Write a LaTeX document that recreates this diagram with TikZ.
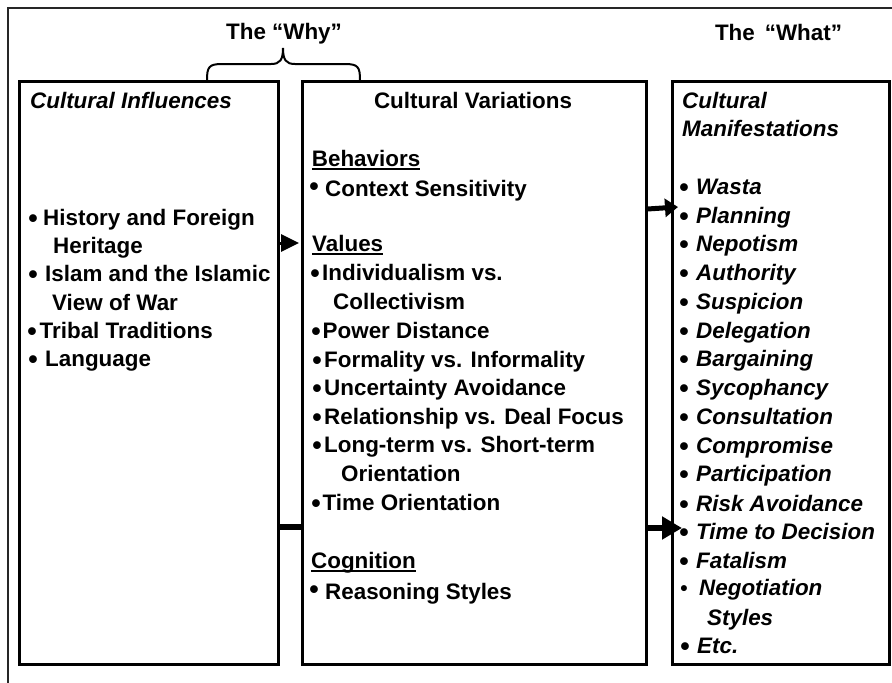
\documentclass[tikz,border=0pt]{standalone}
\usepackage{fontspec}
\setmainfont{Liberation Sans}
\usetikzlibrary{arrows.meta,calc}
\newcommand\ulhead[1]{\setbox0\hbox{#1}\rlap{\rule[-3.5pt]{\wd0}{2pt}}\box0}
\begin{document}
\begin{tikzpicture}[x=1pt,y=-1pt,
  box/.style={draw=black, line width=2.5pt, inner sep=0pt, anchor=north west, minimum height=583pt},
  txt/.style={anchor=base west, inner sep=0pt, font=\fontsize{22.4pt}{28pt}\selectfont\bfseries},
  itx/.style={anchor=base west, inner sep=0pt, font=\fontsize{22.4pt}{28pt}\selectfont\bfseries\itshape},
  ctx/.style={anchor=base, inner sep=0pt, font=\fontsize{22.4pt}{28pt}\selectfont\bfseries},
  bul/.style={anchor=base, inner sep=0pt, yshift=-2pt, font=\fontsize{27pt}{30pt}\selectfont\bfseries},
  hibul/.style={anchor=base, inner sep=0pt, yshift=1pt, font=\fontsize{27pt}{30pt}\selectfont\bfseries},
  conn/.style={draw=black}]
\useasboundingbox (0,0) rectangle (892,683);
% outer frame (top and left visible)
\draw[line width=2pt, color=black!85] (892,8) -- (8,8) -- (8,683);
% boxes
\node[box, minimum width=259pt] (inf) at (18,80) {};
\node[box, minimum width=344pt] (var) at (301,80) {};
\node[box, minimum width=217pt] (man) at (671,80) {};
% brace
\draw[line width=2pt] (207,80) .. controls (207,67) and (209,64) .. (222,64) -- (271,64)
  .. controls (280,64) and (283,60) .. (283,48) .. controls (283,60) and (286,64) .. (295,64)
  -- (345,64) .. controls (358,64) and (360,67) .. (360,80);
% headings
\node[ctx] (why) at (284,39) {The “Why”};
\node[ctx] (what) at (778.5,40) {The\hspace{10pt}“What”};
% left box
\node[itx] (infT) at (30,108) {Cultural Influences};
\node[bul] (ib1) at (33,225) {•};
\node[txt] (it1) at (43,225) {History and Foreign};
\node[txt] (it1b) at (53,253.3) {Heritage};
\node[bul] (ib2) at (33,281.7) {•};
\node[txt] (it2) at (45,281.7) {Islam and the Islamic};
\node[txt] (it2b) at (52,310) {View of War};
\node[bul] (ib3) at (32,338.3) {•};
\node[txt] (it3) at (39.5,338.3) {Tribal Traditions};
\node[bul] (ib4) at (33,366.7) {•};
\node[txt] (it4) at (45,366.7) {Language};
% middle box
\node[ctx] (varT) at (473,108) {Cultural Variations};
\node[txt] (vh1) at (311.7,166.7) {\ulhead{Behaviors}};
\node[hibul] (vb1) at (314,196.7) {•};
\node[txt] (vt1) at (325,196.7) {Context Sensitivity};
\node[txt] (vh2) at (312,251.7) {\ulhead{Values}};
\node[bul] (vb2) at (315,280) {•};
\node[txt] (vt2) at (322,280) {Individualism vs.};
\node[txt] (vt2b) at (333,309.3) {Collectivism};
\node[bul] (vb3) at (316,338.3) {•};
\node[txt] (vt3) at (322.5,338.3) {Power Distance};
\node[bul] (vb4) at (317,367.3) {•};
\node[txt] (vt4) at (324,367.3) {Formality vs. Informality};
\node[bul] (vb5) at (317,395) {•};
\node[txt] (vt5) at (324,395) {Uncertainty Avoidance};
\node[bul] (vb6) at (317,424) {•};
\node[txt] (vt6) at (324,424) {Relationship vs. Deal Focus};
\node[bul] (vb7) at (317,452.7) {•};
\node[txt] (vt7) at (324,452.7) {Long-term vs. Short-term};
\node[txt] (vt7b) at (341,481.7) {Orientation};
\node[bul] (vb8) at (316,510) {•};
\node[txt] (vt8) at (322.5,510) {Time Orientation};
\node[txt] (vh3) at (311,568.3) {\ulhead{Cognition}};
\node[hibul] (vb9) at (314,599) {•};
\node[txt] (vt9) at (325,599) {Reasoning Styles};
% right box
\node[itx] (manT1) at (682,108.3) {Cultural};
\node[itx] (manT2) at (682,136.7) {Manifestations};
\foreach \t [count=\i from 0] in {Wasta,Planning,Nepotism,Authority,Suspicion,Delegation,Bargaining,Sycophancy,Consultation,Compromise,Participation} {
  \node[bul] (mb\i) at (684,{194.3+28.75*\i}) {•};
  \node[itx] (mt\i) at (696,{194.3+28.75*\i}) {\t};
}
\node[bul] (mb11) at (684,511) {•};
\node[itx] (mt11) at (696,511) {Risk Avoidance};
\node[bul] (mb12) at (684,539.3) {•};
\node[itx] (mt12) at (696,539.3) {Time to Decision};
\node[bul] (mb13) at (684,568.3) {•};
\node[itx] (mt13) at (696,568.3) {Fatalism};
\node[bul, yshift=2pt, font=\fontsize{21pt}{22pt}\selectfont\bfseries] (mb14) at (684,595) {•};
\node[itx] (mt14) at (699,595) {Negotiation};
\node[itx] (mt14b) at (707,625) {Styles};
\node[bul] (mb15) at (685,653.3) {•};
\node[itx] (mt15) at (697,653.3) {Etc.};
% connectors
\coordinate (a1) at (0,243);
\coordinate (a2) at (0,527);
\coordinate (a3s) at (0,209);
\coordinate (a3t) at (678,207);
\coordinate (a4) at (0,528);
\coordinate (a4t) at (682,528);
\draw[conn, line width=3pt, -{Triangle[length=18pt,width=17pt]}] (inf.east |- a1) -- ($(var.west |- a1)+(-2,0)$);
\draw[conn, line width=6pt] (inf.east |- a2) -- (var.west |- a2);
\draw[conn, line width=5pt, -{Triangle[length=13pt,width=18pt]}] (var.east |- a3s) -- (a3t);
\draw[conn, line width=6pt, -{Triangle[length=20pt,width=22pt]}] (var.east |- a4) -- (a4t);
\end{tikzpicture}
\end{document}
